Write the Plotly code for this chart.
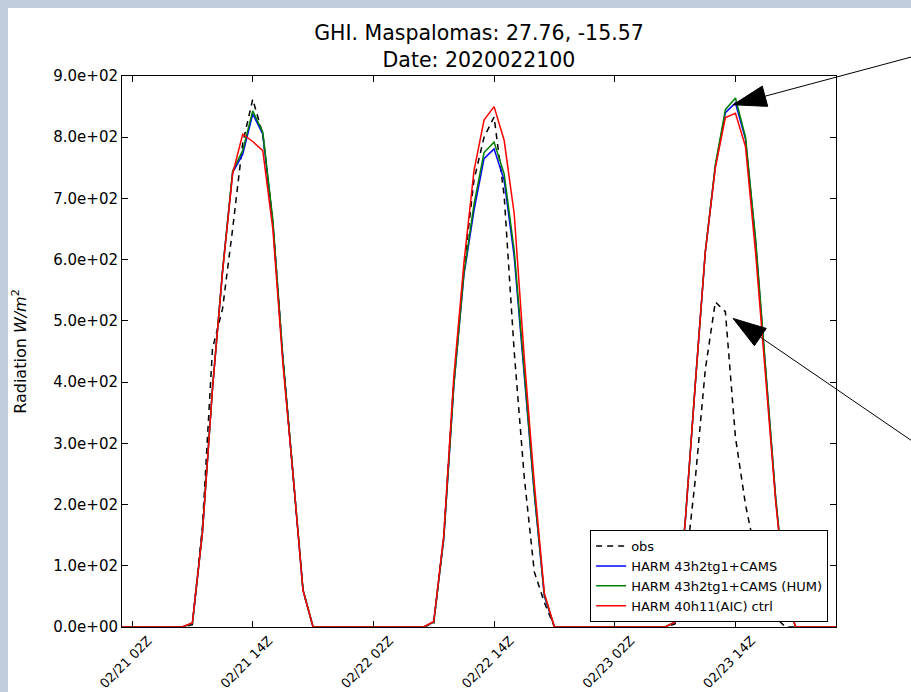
import math
import pandas as pd
import plotly.graph_objects as go

# ---------------- data (hourly, 2020-02-21 01Z .. 2020-02-24 00Z) ----------------
start_time = "2020-02-21 01:00"
n_hours = 72

obs = [0, 0, 0, 0, 0, 0,
       0, 4, 165, 455, 520, 650, 790, 862, 805, 660, 440, 250, 60, 0,
       0, 0, 0, 0, 0, 0, 0, 0, 0, 0,
       0, 6, 150, 405, 585, 730, 800, 833, 705, 450, 245, 90, 40, 0,
       0, 0, 0, 0, 0, 0, 0, 0, 0, 0,
       0, 5, 90, 240, 420, 531, 515, 310, 200, 120, 50, 15, 0, 0,
       0, 0, 0, 0]

harm_cams = [0, 0, 0, 0, 0, 0,
             0, 6, 155, 390, 582, 742, 772, 838, 805, 660, 438, 250, 60, 0,
             0, 0, 0, 0, 0, 0, 0, 0, 0, 0,
             0, 8, 145, 395, 575, 680, 765, 781, 730, 605, 405, 217, 50, 0,
             0, 0, 0, 0, 0, 0, 0, 0, 0, 0,
             0, 8, 170, 395, 612, 752, 840, 856, 797, 630, 420, 210, 45, 0,
             0, 0, 0, 0]

harm_cams_hum = [0, 0, 0, 0, 0, 0,
                 0, 6, 155, 390, 582, 745, 778, 843, 808, 665, 440, 252, 61, 0,
                 0, 0, 0, 0, 0, 0, 0, 0, 0, 0,
                 0, 8, 145, 395, 578, 690, 775, 792, 740, 615, 410, 220, 52, 0,
                 0, 0, 0, 0, 0, 0, 0, 0, 0, 0,
                 0, 8, 170, 395, 612, 755, 845, 864, 800, 635, 422, 212, 46, 0,
                 0, 0, 0, 0]

harm_ctrl = [0, 0, 0, 0, 0, 0,
             0, 7, 155, 390, 580, 740, 805, 793, 778, 650, 430, 250, 60, 0,
             0, 0, 0, 0, 0, 0, 0, 0, 0, 0,
             0, 9, 150, 410, 595, 745, 828, 850, 795, 675, 440, 235, 55, 0,
             0, 0, 0, 0, 0, 0, 0, 0, 0, 0,
             0, 8, 170, 395, 612, 750, 832, 839, 785, 612, 410, 205, 45, 0,
             0, 0, 0, 0]

series_names = ["obs", "HARM 43h2tg1+CAMS", "HARM 43h2tg1+CAMS (HUM)", "HARM 40h11(AIC) ctrl"]
series_colors = ["#000000", "#0000ff", "#008000", "#ff0000"]
series_dash = ["6px,5px", "solid", "solid", "solid"]

x_tick_times = ["2020-02-21 02:00", "2020-02-21 14:00", "2020-02-22 02:00",
                "2020-02-22 14:00", "2020-02-23 02:00", "2020-02-23 14:00"]
y_tick_values = [0, 100, 200, 300, 400, 500, 600, 700, 800, 900]
y_range = [0, 900]
x_range = ["2020-02-21 01:00", "2020-02-24 00:00"]

# annotation arrow tips (data coords) – decorations
arrow_tips = [("2020-02-23 13:46", 853), ("2020-02-23 13:46", 504)]
arrow_dirs_deg = [15.0, -34.4]   # direction from tip toward tail (degrees, counter-clockwise)

# ---------------- figure ----------------
times = pd.date_range(start_time, periods=n_hours, freq="h")
values = [obs, harm_cams, harm_cams_hum, harm_ctrl]

fig = go.Figure()
for name, vals, col, dash in zip(series_names, values, series_colors, series_dash):
    fig.add_trace(go.Scatter(
        x=times, y=vals, mode="lines", name=name,
        line=dict(color=col, width=1.5, dash=dash),
    ))

font_family = "DejaVu Sans"

x_tick_text = [pd.Timestamp(t).strftime("%m/%d %HZ") for t in x_tick_times]
y_tick_text = [f"{v:.1e}" for v in y_tick_values]

axis_common = dict(
    showline=True, linecolor="black", linewidth=1, mirror="ticks",
    ticks="inside", ticklen=6, tickwidth=1, tickcolor="black",
    showgrid=False, zeroline=False,
)

fig.update_xaxes(
    range=x_range, tickvals=x_tick_times, ticktext=x_tick_text,
    tickangle=-45, tickfont=dict(family=font_family, size=13, color="black"),
    ticklabelshift=16,
    **axis_common,
)
fig.update_yaxes(
    range=y_range, tickvals=y_tick_values, ticktext=y_tick_text,
    tickfont=dict(family=font_family, size=15, color="black"),
    title=dict(text="Radiation <i>W/m</i><sup>2</sup>",
               font=dict(family=font_family, size=16, color="black"),
               standoff=22),
    **axis_common,
)

# white figure panel over the bluish page background
plot_l, plot_r, plot_t, plot_b = 122, 836, 76, 627
W, H = 911, 692
pw, ph = plot_r - plot_l, plot_b - plot_t
shapes = [dict(
    type="rect", xref="paper", yref="paper", layer="below",
    x0=(8 - plot_l) / pw, x1=(W + 5 - plot_l) / pw,
    y0=(plot_b - (H + 5)) / ph, y1=(plot_b - 8) / ph,
    fillcolor="white", line=dict(width=0),
)]

# arrows: anchored at the tip, expressed as paper fractions so they are not clipped
x0_ts, x1_ts = pd.Timestamp(x_range[0]), pd.Timestamp(x_range[1])
head_len, head_half, tail_len = 33, 10.5, 260
for (tx, ty), ang in zip(arrow_tips, arrow_dirs_deg):
    xp = (pd.Timestamp(tx) - x0_ts) / (x1_ts - x0_ts)
    yp = (ty - y_range[0]) / (y_range[1] - y_range[0])
    dx, dy = math.cos(math.radians(ang)), math.sin(math.radians(ang))  # y up
    bx, by = head_len * dx, head_len * dy
    px, py = -dy * head_half, dx * head_half
    head = (f"M 0,0 L {bx + px:.2f},{by + py:.2f} "
            f"L {bx - px:.2f},{by - py:.2f} Z")
    shapes.append(dict(
        type="path", xref="paper", yref="paper", xsizemode="pixel", ysizemode="pixel",
        xanchor=xp, yanchor=yp, path=head, fillcolor="black",
        line=dict(color="black", width=1), layer="above",
    ))
    shapes.append(dict(
        type="line", xref="paper", yref="paper", xsizemode="pixel", ysizemode="pixel",
        xanchor=xp, yanchor=yp,
        x0=bx, y0=by, x1=tail_len * dx, y1=tail_len * dy,
        line=dict(color="black", width=1), layer="above",
    ))

fig.update_layout(
    width=W, height=H,
    margin=dict(l=plot_l, r=W - plot_r, t=plot_t, b=H - plot_b, autoexpand=False),
    paper_bgcolor="#c2cddc", plot_bgcolor="white",
    font=dict(family=font_family, color="black"),
    title=dict(text="GHI. Maspalomas: 27.76, -15.57<br>Date: 2020022100",
               x=0.5, xref="paper", xanchor="center",
               y=1 - 40 / H, yref="container", yanchor="middle",
               font=dict(family=font_family, size=20.5, color="black")),
    showlegend=True,
    legend=dict(x=0.989, y=0.009, xanchor="right", yanchor="bottom",
                bgcolor="white", bordercolor="black", borderwidth=1,
                font=dict(family=font_family, size=13, color="black"),
                tracegroupgap=0, itemwidth=30),
    shapes=shapes,
)

fig.write_html("out.html")
